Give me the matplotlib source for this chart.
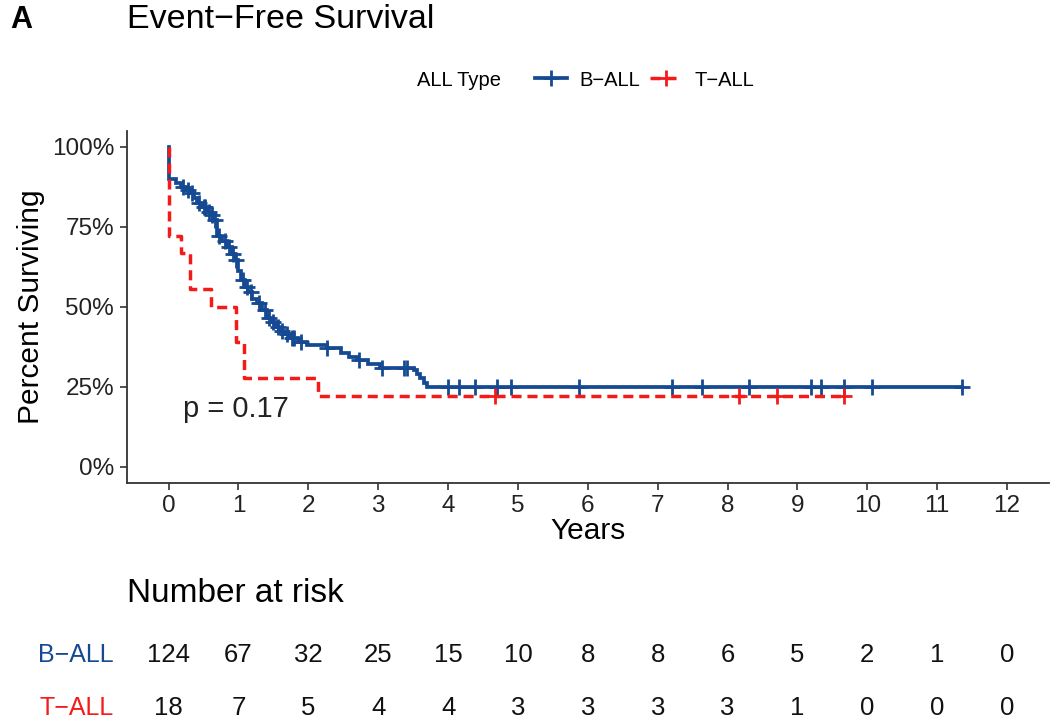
''' Event-free survival (Kaplan-Meier) by ALL type, with number-at-risk table. '''
import numpy as np
import matplotlib
matplotlib.use('Agg')
import matplotlib.pyplot as plt
from matplotlib.lines import Line2D
from matplotlib.transforms import blended_transform_factory

plt.rcParams['font.family'] = ['Liberation Sans', 'DejaVu Sans']

# ---------------- data ----------------
# B-ALL: step times (years) and survival after each step
b_time = [0.00, 0.00, 0.10, 0.17, 0.25, 0.31, 0.37, 0.41, 0.48, 0.55, 0.60,
          0.64, 0.69, 0.76, 0.84, 0.90, 0.95, 1.00, 1.03, 1.09, 1.14, 1.20,
          1.26, 1.34, 1.41, 1.47, 1.53, 1.58, 1.65, 1.74, 1.85, 1.98, 2.27,
          2.46, 2.58, 2.70, 2.85, 3.03, 3.51, 3.56, 3.60, 3.65, 3.70]
b_surv = [1.000, 0.900, 0.885, 0.875, 0.865, 0.854, 0.840, 0.823, 0.810,
          0.797, 0.785, 0.771, 0.720, 0.705, 0.688, 0.665, 0.646, 0.610,
          0.583, 0.563, 0.547, 0.525, 0.510, 0.490, 0.465, 0.452, 0.438,
          0.425, 0.415, 0.401, 0.390, 0.380, 0.370, 0.354, 0.343, 0.333,
          0.320, 0.308, 0.302, 0.290, 0.276, 0.263, 0.250]
b_cens = [0.20, 0.28, 0.34, 0.44, 0.50, 0.52, 0.58, 0.62, 0.66, 0.72, 0.80,
          0.86, 0.92, 0.97, 1.06, 1.12, 1.18, 1.30, 1.38, 1.44, 1.50, 1.56,
          1.62, 1.70, 1.76, 1.80, 1.90, 2.27, 2.72, 3.05, 3.37, 3.41, 4.00,
          4.16, 4.39, 4.70, 4.90, 5.87, 7.20, 7.63, 8.31, 9.19, 9.33, 9.67,
          10.07, 11.35]

# T-ALL
t_time = [0.00, 0.00, 0.17, 0.31, 0.60, 0.97, 1.08, 2.14]
t_surv = [1.000, 0.722, 0.667, 0.556, 0.500, 0.389, 0.278, 0.222]
t_cens = [4.67, 8.16, 8.71, 9.67]

# number at risk
risk_times = list(range(13))
b_risk = [124, 67, 32, 25, 15, 10, 8, 8, 6, 5, 2, 1, 0]
t_risk = [18, 7, 5, 4, 4, 3, 3, 3, 3, 1, 0, 0, 0]

groups = ['B\u2212ALL', 'T\u2212ALL']
colors = ['#154A93', '#F51A1A']
p_text = 'p = 0.17'


def surv_at(times, surv, t):
    ''' Survival value of a step curve at times t. '''
    idx = np.searchsorted(times, t, side='right') - 1
    return np.asarray(surv)[idx]


fig = plt.figure(figsize=(10.5, 7.22), dpi=100)
W, H = 1050.0, 722.0
ax = fig.add_axes([126.7 / W, 1 - 482.7 / H, (1049 - 126.7) / W, (482.7 - 130.7) / H])

styles = [dict(ls='-', lw=2.7), dict(ls=(0, (2.9, 1.7)), lw=2.5)]
curves = [(b_time, b_surv, b_cens), (t_time, t_surv, t_cens)]
for (tm, sv, cn), col, st in zip(curves, colors, styles):
    tm = np.asarray(tm); sv = np.asarray(sv); cn = np.asarray(cn)
    x = np.r_[tm, cn.max()]
    y = np.r_[sv, sv[-1]]
    ax.step(x, y, where='post', color=col, solid_joinstyle='miter', **st)
    ax.plot(cn, surv_at(tm, sv, cn), ls='none', marker='+', ms=11, mew=2.0,
            color=col)

ax.set_xlim(-0.6, 12.6)
ax.set_ylim(-0.05, 1.05)
ax.set_xticks(risk_times)
ax.set_yticks([0, 0.25, 0.5, 0.75, 1.0])
ax.set_yticklabels(['0%', '25%', '50%', '75%', '100%'])
for s in ['top', 'right']:
    ax.spines[s].set_visible(False)
for s in ['left', 'bottom']:
    ax.spines[s].set_linewidth(1.3)
    ax.spines[s].set_color('#333333')
ax.tick_params(labelsize=17.5, length=5, width=1.2, color='#333333',
               labelcolor='#222222', pad=4)
ax.set_xlabel('Years', fontsize=21.5, labelpad=0)
ax.set_ylabel('Percent Surviving', fontsize=21.5, labelpad=5)
ax.text(0.2, 0.18, p_text, fontsize=21, ha='left', va='center', color='#222222')

# titles
fig.text(10 / W, 1 - 20 / H, 'A', fontsize=22, fontweight='bold', va='center')
fig.text(127 / W, 1 - 20 / H, 'Event\u2212Free Survival', fontsize=24.5, va='center')

# legend
fig.text(417 / W, 1 - 80 / H, 'ALL Type', fontsize=14.5, va='center')
handles = [Line2D([], [], color=c, marker='+', ms=11, mew=2.0, **st)
           for c, st in zip(colors, styles)]
fig.legend(handles, groups, loc='center left', bbox_to_anchor=(525 / W, 1 - 80 / H),
           ncol=2, frameon=False, fontsize=14.5, handlelength=1.6,
           handletextpad=0.6, columnspacing=0.5, borderpad=0)

# number at risk table
tr = blended_transform_factory(ax.transData, fig.transFigure)
fig.text(127 / W, 1 - 593 / H, 'Number at risk', fontsize=24, va='center')
for row_y, lab, col, vals in zip([655, 708], groups, colors, [b_risk, t_risk]):
    fig.text(114 / W, 1 - row_y / H, lab, fontsize=18, color=col,
             ha='right', va='center')
    for t, v in zip(risk_times, vals):
        ax.text(t, 1 - row_y / H, str(v), transform=tr, fontsize=18.5,
                ha='center', va='center', color='#111111', clip_on=False)

fig.savefig('out.png', dpi=100)
